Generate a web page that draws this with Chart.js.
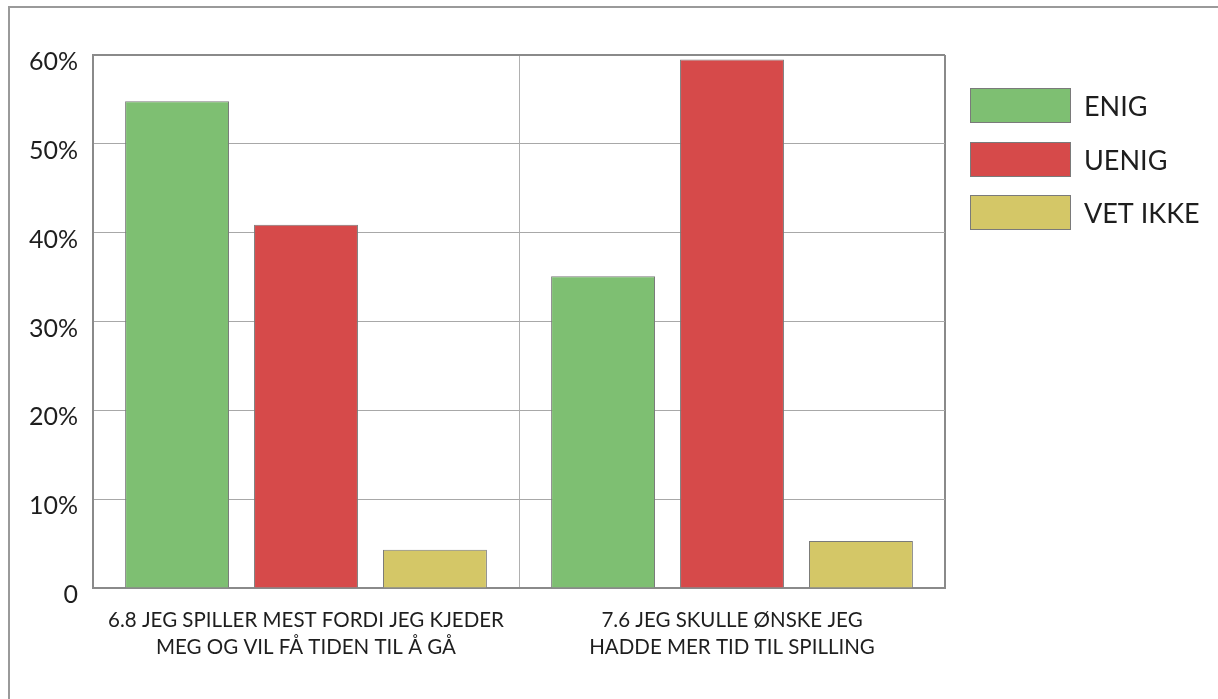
<!DOCTYPE html>
<html>
<head>
<meta charset="utf-8">
<script src="https://cdn.jsdelivr.net/npm/chart.js@4.4.1/dist/chart.umd.min.js"></script>
<style>
  html, body { margin: 0; padding: 0; background: #fff; }
  #wrap { position: relative; width: 1218px; height: 699px; overflow: hidden; }
  #frame { position: absolute; left: 8px; top: 6px; right: -10px; bottom: -10px;
           border-top: 2px solid #9a9a9a; border-left: 2px solid #9a9a9a; }
  canvas { position: absolute; left: 0; top: 0; }
</style>
</head>
<body>
<div id="wrap">
  <div id="frame"></div>
  <canvas id="chart" width="1218" height="699"></canvas>
</div>
<script>
// spørsmål og svarfordeling (prosent)
const categories = [
    ['6.8 JEG SPILLER MEST FORDI JEG KJEDER', 'MEG OG VIL FÅ TIDEN TIL Å GÅ'],
    ['7.6 JEG SKULLE ØNSKE JEG', 'HADDE MER TID TIL SPILLING']
];
const seriesNames = ['ENIG', 'UENIG', 'VET IKKE'];
const enig = [54.8, 35.1];
const uenig = [40.9, 59.5];
const vetIkke = [4.3, 5.3];
const yTicks = [0, 10, 20, 30, 40, 50, 60];

const colors = ['#7ebf72', '#d64a4a', '#d4c767'];
const edge = '#7a7a7a';
const fontFamily = 'Lato, "Open Sans", sans-serif';

// legenden tegnes for hånd til høyre for plottet
const sideLegend = {
    id: 'sideLegend',
    afterDraw(chart) {
        const ctx = chart.ctx;
        const x = chart.chartArea.right + 25;
        const tops = [88, 142, 195];
        ctx.save();
        chart.data.datasets.forEach((ds, i) => {
            ctx.fillStyle = ds.backgroundColor;
            ctx.fillRect(x, tops[i], 101, 35);
            ctx.strokeStyle = edge;
            ctx.lineWidth = 1;
            ctx.strokeRect(x + 0.5, tops[i] + 0.5, 100, 34);
            ctx.fillStyle = '#1e1e1e';
            ctx.font = '27px ' + fontFamily;
            ctx.textBaseline = 'middle';
            ctx.fillText(ds.label, x + 114, tops[i] + 19);
        });
        ctx.restore();
    }
};

new Chart(document.getElementById('chart'), {
    type: 'bar',
    data: {
        labels: categories,
        datasets: [
            { label: seriesNames[0], data: enig, backgroundColor: colors[0] },
            { label: seriesNames[1], data: uenig, backgroundColor: colors[1] },
            { label: seriesNames[2], data: vetIkke, backgroundColor: colors[2] }
        ].map(d => Object.assign(d, {
            borderColor: edge,
            borderWidth: 1,
            categoryPercentage: 0.908,
            barPercentage: 0.806
        }))
    },
    options: {
        responsive: false,
        animation: false,
        layout: { padding: { left: 0, top: 55, right: 273, bottom: 0 } },
        plugins: { legend: { display: false }, tooltip: { enabled: false } },
        scales: {
            x: {
                afterFit: s => { s.height = 111; },
                grid: {
                    drawTicks: false,
                    color: c => c.index === 1 ? '#b0b0b0' : '#8a8a8a',
                    lineWidth: c => c.index === 1 ? 1 : 2
                },
                border: { display: true, color: '#8a8a8a', width: 2 },
                ticks: {
                    padding: 19,
                    maxRotation: 0,
                    color: '#1e1e1e',
                    font: { family: fontFamily, size: 20.5, lineHeight: 1.32 }
                }
            },
            y: {
                min: 0,
                max: 60,
                afterFit: s => { s.width = 93; },
                afterBuildTicks: s => { s.ticks = yTicks.map(v => ({ value: v })); },
                grid: {
                    drawTicks: false,
                    color: c => c.tick.value === 60 ? '#8a8a8a' : '#a8a8a8',
                    lineWidth: c => c.tick.value === 60 ? 2 : 1
                },
                border: { display: true, color: '#8a8a8a', width: 2 },
                ticks: {
                    padding: 15,
                    labelOffset: 7,
                    color: '#1e1e1e',
                    font: { family: fontFamily, size: 25 },
                    callback: v => v === 0 ? '0' : v + '%'
                }
            }
        }
    },
    plugins: [sideLegend]
});
</script>
</body>
</html>
